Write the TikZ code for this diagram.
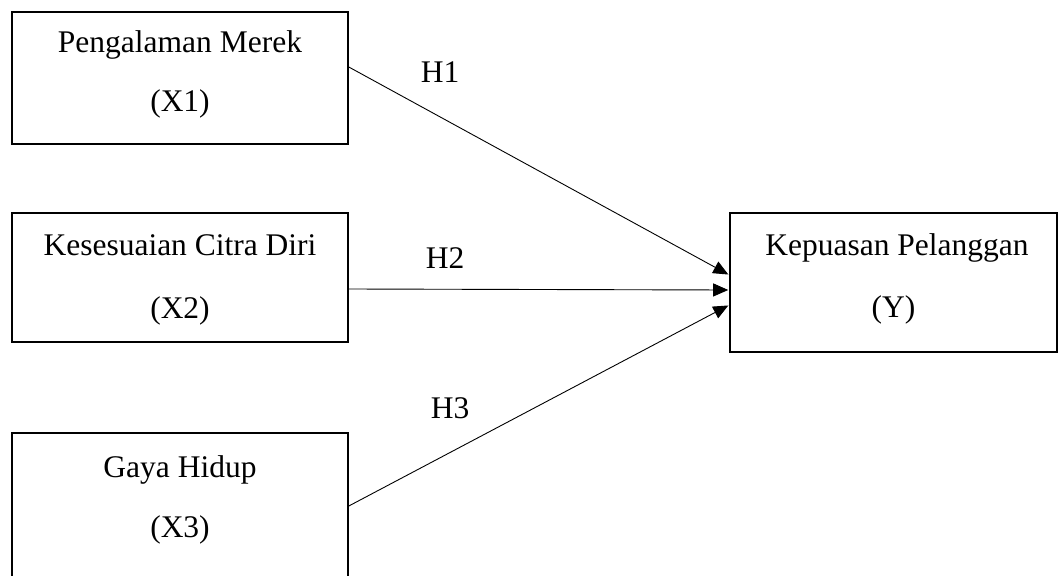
\documentclass[tikz,border=0pt]{standalone}
\usepackage{fontspec}
\setmainfont{Liberation Serif}
\usetikzlibrary{arrows.meta}
\tikzset{
  box/.style={draw, line width=1.6pt, rectangle, inner sep=0pt},
  txt/.style={anchor=base, inner sep=0pt, font=\fontsize{31.5}{36}\selectfont},
  arr/.style={line width=0.9pt, -{Triangle[length=15pt,width=13pt]}, shorten >=1pt}
}
\begin{document}
\begin{tikzpicture}[x=1pt,y=-1pt]
\useasboundingbox (0,0) rectangle (1059,575);
\clip (0,0) rectangle (1059,575);
% boxes
\node[box, minimum width=336pt, minimum height=132pt] (x1) at (180,78) {};
\node[box, minimum width=336pt, minimum height=129pt] (x2) at (180,277.5) {};
\node[box, minimum width=336pt, minimum height=160pt] (x3) at (180,513) {};
\node[box, minimum width=327pt, minimum height=139pt] (y) at (893.5,282.5) {};
% texts
\node[txt] (x1a) at (180,53) {Pengalaman Merek};
\node[txt] (x1b) at (180,111) {(X1)};
\node[txt] (x2a) at (180,255) {Kesesuaian Citra Diri};
\node[txt] (x2b) at (180,318) {(X2)};
\node[txt] (x3a) at (180,477) {Gaya Hidup};
\node[txt] (x3b) at (180,537) {(X3)};
\node[txt] (ya) at (897,255) {Kepuasan Pelanggan};
\node[txt] (yb) at (893.5,317) {(Y)};
\node[txt] (h1) at (440,83) {H1};
\node[txt] (h2) at (445,268) {H2};
\node[txt] (h3) at (450,418) {H3};
% arrows
\draw[arr] (x1.east |- 0,67) -- (y.west |- 0,275);
\draw[arr] (x2.east |- 0,289) -- (y.west |- 0,290);
\draw[arr] (x3.east |- 0,506) -- (y.west |- 0,305);
\end{tikzpicture}
\end{document}
